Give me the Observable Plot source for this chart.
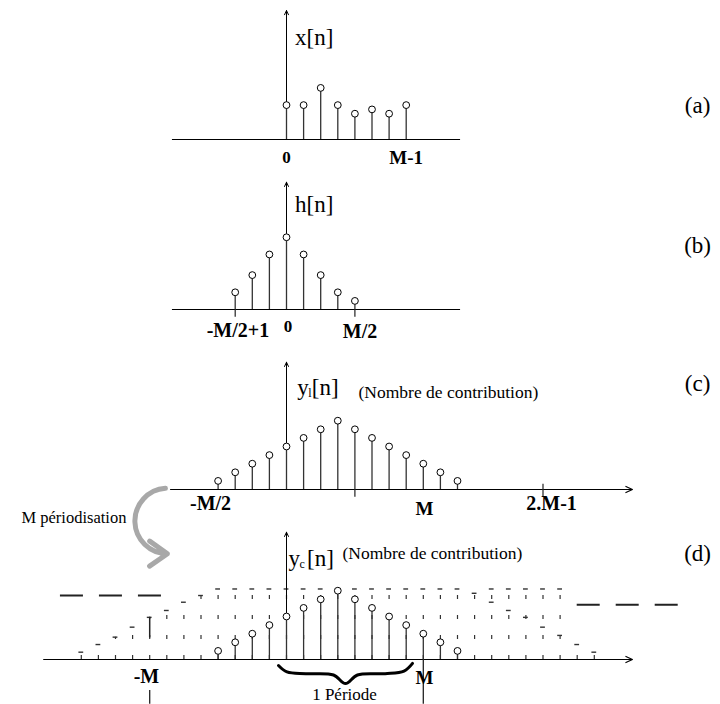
<!DOCTYPE html>
<html><head><meta charset="utf-8">
<script src="https://cdn.jsdelivr.net/npm/d3@7"></script>
<script src="https://cdn.jsdelivr.net/npm/@observablehq/plot@0.6"></script>
<style>
body{margin:0;background:#fff;}
#wrap{position:relative;width:720px;height:704px;}
#wrap svg{position:absolute;left:0;top:0;overflow:visible;}
</style></head><body><div id="wrap"></div>
<script>
// ---------- data ----------
const xN = [0, 1, 2, 3, 4, 5, 6, 7];
const xV = [4, 4, 6, 4, 3, 3.5, 3, 4];
const hN = [-3, -2, -1, 0, 1, 2, 3, 4];
const hV = [2, 4, 6.4, 8.4, 6.4, 4, 2, 1];
const ylN = [-4, -3, -2, -1, 0, 1, 2, 3, 4, 5, 6, 7, 8, 9, 10];
const ylV = [1, 2, 3, 4, 5, 6, 7, 8, 7, 6, 5, 4, 3, 2, 1];
const ycN = [-4, -3, -2, -1, 0, 1, 2, 3, 4, 5, 6, 7, 8, 9, 10];
const ycV = [1, 2, 3, 4, 5, 6, 7, 8, 7, 6, 5, 4, 3, 2, 1];
// periodised copies (ghost samples)
const ghostN = [-12, -11, -10, -9, -8, -7, -6, -5, -4, -3, -2, -1, 0, 1, 2, 3, 4, 5, 6, 7, 8, 9, 10, 11, 12, 13, 14, 15, 16, 17, 18];
const ghostTop = [0.85, 1.74, 2.6, 3.76, 4.9, 5.7, 6.66, 7.44, 8.2, 8.2, 8.2, 8.2, 8.2, 8.2, 8.2, 8.2, 8.2, 8.2, 8.2, 8.2, 8.2, 8.2, 8.2, 7.7, 8.2, 8.2, 8.2, 8.2, 8.2, 1.74, 0.85];
const copyN = [12, 13, 14, 15, 16];
const copyV = [6.66, 5.7, 4.9, 3.76, 2.8];
const periodStart = -0.47, periodEnd = 7.37;

// ---------- layout helpers ----------
const X0 = 286, DX = 17.1, U = 8.6;
const FONT = "'Liberation Serif', 'Times New Roman', serif";
const toRows = (ns, vs) => ns.map((n, i) => ({n, v: vs[i]}));
const T = (text, x, y, o = {}) => Plot.text([text], {x: () => x, y: () => y, text: d => d, fontSize: 17, fill: "black", ...o});
const B = (text, x, y, o = {}) => T(text, x, y, {fontWeight: "bold", fontSize: 20, ...o});

function panel(base, marks) {
  return Plot.plot({
    width: 720, height: 704, margin: 0,
    x: {domain: [-X0 / DX, (720 - X0) / DX], range: [0, 720], axis: null},
    y: {domain: [0, 1], range: [base, base - U], axis: null},
    style: {background: "transparent", overflow: "visible", fontFamily: FONT},
    marks
  });
}
const stems = (rows, stroke = "#333") => [
  Plot.ruleX(rows, {x: "n", y1: 0, y2: "v", stroke, strokeWidth: 1.3}),
  Plot.dot(rows, {x: "n", y: "v", r: 3.4, fill: "white", stroke: "black", strokeWidth: 1})
];
const vAxis = (top) => Plot.arrow([0], {x1: () => 0, y1: () => 0, x2: () => 0, y2: () => top, stroke: "black", strokeWidth: 1, headLength: 7, headAngle: 50});
const hLine = (a, b) => Plot.ruleY([0], {x1: () => a, x2: () => b, stroke: "black", strokeWidth: 1});
const hArrow = (a, b) => Plot.arrow([0], {x1: () => a, y1: () => 0, x2: () => b, y2: () => 0, stroke: "black", strokeWidth: 1.2, headLength: 9, headAngle: 50});
const tick = (n, y1, y2, w = 1.2) => Plot.ruleX([n], {x: d => d, y1: () => y1, y2: () => y2, stroke: "#222", strokeWidth: w});

// brace shape derived from the period bounds
function bracePts(a, b) {
  const m = (a + b) / 2;
  return [[a, -0.7], [a + 0.5, -1.45], [a + 1.6, -1.65], [m - 0.7, -1.8], [m, -2.8], [m + 0.7, -1.8], [b - 1.6, -1.65], [b - 0.5, -1.35], [b, -0.45]];
}

const wrap = document.getElementById("wrap");

// ---------- (a) ----------
wrap.append(panel(139, [
  hLine(-6.67, 10.18),
  vAxis(15),
  ...stems(toRows(xN, xV)),
  T("x[n]", 0.5, 11.9, {textAnchor: "start", fontSize: 23}),
  B("0", 0, -2.1, {fontSize: 17}),
  B("M-1", 7, -2.1, {fontSize: 19}),
  T("(a)", 24.04, 3.95, {fontSize: 23})
]));

// ---------- (b) ----------
wrap.append(panel(309, [
  hLine(-6.67, 10.18),
  vAxis(14.8),
  tick(-3, 0, -0.9), tick(4, 0, -0.9),
  ...stems(toRows(hN, hV)),
  T("h[n]", 0.5, 12.2, {textAnchor: "start", fontSize: 23}),
  B("-M/2+1", -2.84, -2.44),
  B("0", 0.09, -1.98, {fontSize: 17}),
  B("M/2", 4.3, -2.56),
  T("(b)", 24.04, 7.44, {fontSize: 23})
]));

// ---------- (c) ----------
wrap.append(panel(489, [
  hArrow(-6.78, 20.23),
  vAxis(14.8),
  tick(4, 0, -0.9), tick(15, 0.6, -0.9),
  ...stems(toRows(ylN, ylV)),
  T("y", 0.63, 11.86, {textAnchor: "start", fontSize: 23}),
  T("l", 0.63, 11.86, {textAnchor: "start", fontSize: 12, dx: 11, dy: 6}),
  T("[n]", 0.63, 11.86, {textAnchor: "start", fontSize: 23, dx: 14.5}),
  T("(Nombre de contribution)", 4.21, 11.3, {textAnchor: "start", fontSize: 17.5}),
  T("(c)", 24.04, 12.3, {fontSize: 23}),
  B("-M/2", -4.44, -1.63),
  B("M", 8.07, -2.2, {fontSize: 19}),
  B("2.M-1", 15.5, -1.63)
]));

// ---------- (d) ----------
const ghostRows = toRows(ghostN, ghostTop);
wrap.append(panel(659, [
  // continuation dashes
  Plot.ruleY([7.44], {y: d => d, x1: () => -13.22, x2: () => -7.18, stroke: "#222", strokeWidth: 2, strokeDasharray: "23,16"}),
  Plot.ruleY([6.36], {y: d => d, x1: () => 17.0, x2: () => 23.04, stroke: "#222", strokeWidth: 2, strokeDasharray: "23,16"}),
  // ghost (aliased) contributions
  Plot.ruleX(ghostRows, {x: "n", y1: 0, y2: "v", stroke: "#333", strokeWidth: 1.2, strokeDasharray: "4,16"}),
  Plot.ruleY(ghostRows, {y: "v", x1: d => d.n - 0.14, x2: d => d.n + 0.14, stroke: "#333", strokeWidth: 1.4}),
  Plot.ruleY(toRows(copyN, copyV), {y: "v", x1: d => d.n - 0.14, x2: d => d.n + 0.14, stroke: "#333", strokeWidth: 1.4}),
  tick(-8, 2.5, 4.9, 1.5),
  hArrow(-14.2, 20.23),
  vAxis(14.8),
  ...stems(toRows(ycN, ycV)),
  tick(8, 0, -5.2, 1.3),
  tick(-8, -3.6, -5.2, 1.3),
  Plot.line(bracePts(periodStart, periodEnd), {x: d => d[0], y: d => d[1], curve: "catmull-rom", stroke: "black", strokeWidth: 3}),
  T("y", 0.12, 11.74, {textAnchor: "start", fontSize: 23}),
  T("c", 0.12, 11.74, {textAnchor: "start", fontSize: 12, dx: 11, dy: 6}),
  T("[n]", 0.12, 11.74, {textAnchor: "start", fontSize: 23, dx: 18.5}),
  T("(Nombre de contribution)", 3.27, 12.3, {textAnchor: "start", fontSize: 17.5}),
  T("(d)", 24.04, 12.3, {fontSize: 23}),
  B("-M", -8.19, -1.98),
  B("M", 8.07, -2.1, {fontSize: 19}),
  T("1 Période", 3.39, -4.07, {fontSize: 17}),
  T("M périodisation", -9.36, 16.5, {textAnchor: "end", fontSize: 16.5}),
  Plot.arrow([0], {x1: () => -7.08, y1: () => 19.9, x2: () => -6.96, y2: () => 12.3, bend: -88, stroke: "#a8a8a8", strokeWidth: 5, headLength: 14, headAngle: 70})
]));
</script></body></html>
